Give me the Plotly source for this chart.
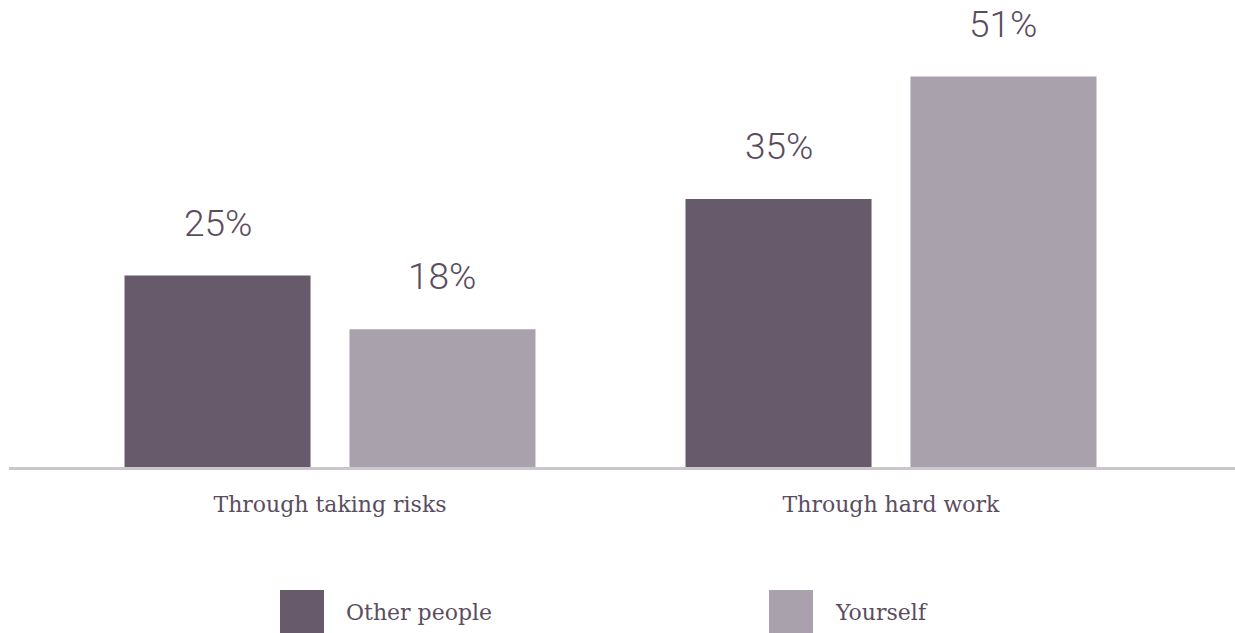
import plotly.graph_objects as go

# Survey results: how success is achieved
categories = ["Through taking risks", "Through hard work"]
series_names = ["Other people", "Yourself"]
other_people = [25, 35]
yourself = [18, 51]
series_values = [other_people, yourself]
series_colors = ["#675a6b", "#a9a2ad"]

W, H = 1235, 633
M_L, M_R, M_T, M_B = 9, 0, 0, 166
BARGAP, BARGROUPGAP = 0.198, 0.173

TEXT_COLOR = "#5b4d60"
NUM_FONT = "Roboto, DejaVu Sans Condensed, sans-serif"
SERIF_FONT = "DejaVu Serif, Liberation Serif, serif"

x_idx = list(range(len(categories)))

fig = go.Figure()
for name, vals, color in zip(series_names, series_values, series_colors):
    fig.add_trace(go.Bar(
        x=x_idx, y=vals, name=name,
        marker=dict(color=color, line=dict(width=0)),
        showlegend=False, hoverinfo="skip",
    ))

# value labels above each bar, centred on the bar's slot within the group
n = len(series_names)
slot = (1 - BARGAP) / n
annotations = []
for s, vals in enumerate(series_values):
    offset = -(1 - BARGAP) / 2 + slot * (s + 0.5)
    for i, v in enumerate(vals):
        annotations.append(dict(
            x=i + offset, y=v, xref="x", yref="y",
            text=f"{v}%", showarrow=False,
            yanchor="bottom", yshift=29,
            font=dict(family=NUM_FONT, size=37, color=TEXT_COLOR, weight=300),
        ))

# legend: large swatches with serif labels
plot_w = W - M_L - M_R
plot_h = H - M_T - M_B


def px_x(px):
    return (px - M_L) / plot_w


def px_y(py):
    return (H - M_B - py) / plot_h


legend_x = [280, 769]
shapes = []
for name, color, lx in zip(series_names, series_colors, legend_x):
    shapes.append(dict(
        type="rect", xref="paper", yref="paper",
        x0=px_x(lx), x1=px_x(lx + 44), y0=px_y(590), y1=px_y(634),
        fillcolor=color, line=dict(width=0),
    ))
    annotations.append(dict(
        x=px_x(lx + 64), y=px_y(612), xref="paper", yref="paper",
        text=name, showarrow=False, xanchor="left", yanchor="middle",
        font=dict(family=SERIF_FONT, size=22, color=TEXT_COLOR),
    ))

fig.update_layout(
    width=W, height=H,
    margin=dict(l=M_L, r=M_R, t=M_T, b=M_B, pad=0),
    paper_bgcolor="white", plot_bgcolor="white",
    barmode="group", bargap=BARGAP, bargroupgap=BARGROUPGAP,
    annotations=annotations, shapes=shapes,
    xaxis=dict(
        range=[-(330 - M_L) / 561, (W - 330) / 561],
        tickmode="array", tickvals=x_idx, ticktext=categories,
        tickfont=dict(family=SERIF_FONT, size=22, color=TEXT_COLOR),
        showgrid=False, zeroline=False,
        showline=True, linecolor="#cbc6cc", linewidth=3,
        ticks="", ticklabelstandoff=16,
        fixedrange=True,
    ),
    yaxis=dict(
        range=[0, 61], visible=False, showgrid=False, zeroline=False,
        fixedrange=True,
    ),
)

fig.write_html("out.html")
